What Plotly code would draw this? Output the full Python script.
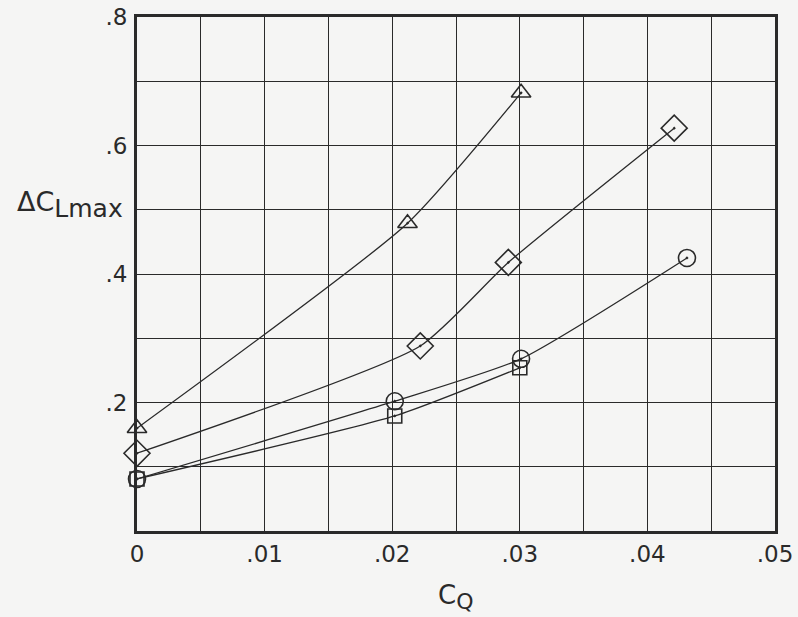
import plotly.graph_objects as go

# Data
tri_x = [0.0, 0.0212, 0.0301]
tri_y = [0.16, 0.479, 0.682]

dia_x = [0.0, 0.0222, 0.0291, 0.0421]
dia_y = [0.121, 0.288, 0.418, 0.627]

cir_x = [0.0, 0.0202, 0.0301, 0.0431]
cir_y = [0.081, 0.202, 0.268, 0.425]

sq_x = [0.0, 0.0202, 0.0300]
sq_y = [0.081, 0.179, 0.254]

x_tickvals = [0, 0.005, 0.01, 0.015, 0.02, 0.025, 0.03, 0.035, 0.04, 0.045, 0.05]
x_ticktext = ["0", "", ".01", "", ".02", "", ".03", "", ".04", "", ".05"]
y_tickvals = [0, 0.1, 0.2, 0.3, 0.4, 0.5, 0.6, 0.7, 0.8]
y_ticktext = ["", "", ".2", "", ".4", "", ".6", "", ".8"]

ink = "#2a2a2a"
font = "DejaVu Sans"

fig = go.Figure()

def add(xs, ys, sym, size):
    fig.add_trace(go.Scatter(
        x=xs, y=ys, mode="lines+markers",
        line=dict(color=ink, width=1.3, shape="spline", smoothing=0.55),
        marker=dict(symbol=sym, size=size, color=ink, line=dict(color=ink, width=1.6)),
        showlegend=False, cliponaxis=False, hoverinfo="skip",
    ))

add(sq_x, sq_y, "square-open-dot", 14)
add(cir_x, cir_y, "circle-open-dot", 17)
add(dia_x, dia_y, "diamond-open-dot", 20)
add(tri_x, tri_y, "triangle-up-open-dot", 17)

fig.update_layout(
    width=798, height=617,
    margin=dict(l=137, r=23, t=17, b=86, autoexpand=False),
    paper_bgcolor="#f5f5f4", plot_bgcolor="#f5f5f4",
    font=dict(family=font, color=ink, size=23),
    xaxis=dict(range=[0, 0.05], tickvals=x_tickvals, ticktext=x_ticktext,
               showgrid=True, gridcolor=ink, gridwidth=1.4,
               showline=True, linecolor=ink, linewidth=3, mirror=True,
               ticks="", zeroline=False, ticklabelstandoff=0,
               ticklabeloverflow="allow", automargin=False),
    yaxis=dict(range=[0, 0.8], tickvals=y_tickvals, ticktext=y_ticktext,
               showgrid=True, gridcolor=ink, gridwidth=1.4,
               showline=True, linecolor=ink, linewidth=3, mirror=True,
               ticks="", zeroline=False, ticklabelstandoff=2,
               ticklabeloverflow="allow", automargin=False),
    annotations=[
        dict(text="ΔC<sub><span style='font-size:25px'>Lmax</span></sub>",
             xref="paper", yref="paper", x=-0.192, y=0.635, xanchor="left", yanchor="middle",
             showarrow=False, font=dict(size=27, family=font, color=ink)),
        dict(text="C<sub><span style='font-size:22px'>Q</span></sub>", xref="paper", yref="paper",
             x=(455 - 137) / 638, y=-0.128, xanchor="center", yanchor="middle",
             showarrow=False, font=dict(size=26, family=font, color=ink)),
    ],
)

fig.write_html("out.html", config={"displayModeBar": False},
               post_script="document.body.style.margin='0';document.body.style.overflow='hidden';")
